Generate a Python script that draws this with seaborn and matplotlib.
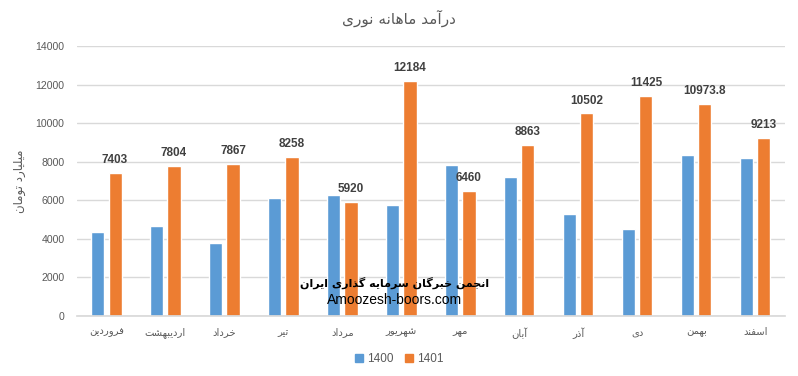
import pandas as pd
import matplotlib
matplotlib.use("Agg")
import matplotlib.pyplot as plt
import seaborn as sns
from matplotlib.patches import Patch

# --- Data ---
months = ["فروردین", "اردیبهشت", "خرداد", "تیر", "مرداد", "شهریور",
          "مهر", "آبان", "آذر", "دی", "بهمن", "اسفند"]
income_1400 = [4350, 4670, 3790, 6120, 6270, 5760, 7830, 7200, 5290, 4510, 8350, 8190]
income_1401 = [7403, 7804, 7867, 8258, 5920, 12184, 6460, 8863, 10502, 11425, 10973.8, 9213]
label_1401 = ["7403", "7804", "7867", "8258", "5920", "12184", "6460", "8863",
              "10502", "11425", "10973.8", "9213"]
series_names = ["1400", "1401"]
title_text = "درآمد ماهانه نوری"
ylabel_text = "میلیارد تومان"
watermark_fa = "انجمن خبرگان سرمایه گذاری ایران"
watermark_en = "Amoozesh-boors.com"

# --- Minimal Persian shaping (matplotlib has no complex text layout) ---
# letter: (isolated, final, initial, medial); right-joining letters have 2 forms
FORMS = {
    "ا": (0xFE8D, 0xFE8E), "آ": (0xFE81, 0xFE82),
    "د": (0xFEA9, 0xFEAA), "ذ": (0xFEAB, 0xFEAC),
    "ر": (0xFEAD, 0xFEAE), "ز": (0xFEAF, 0xFEB0), "و": (0xFEED, 0xFEEE),
    "ب": (0xFE8F, 0xFE90, 0xFE91, 0xFE92), "ت": (0xFE95, 0xFE96, 0xFE97, 0xFE98),
    "ج": (0xFE9D, 0xFE9E, 0xFE9F, 0xFEA0), "خ": (0xFEA5, 0xFEA6, 0xFEA7, 0xFEA8),
    "س": (0xFEB1, 0xFEB2, 0xFEB3, 0xFEB4), "ش": (0xFEB5, 0xFEB6, 0xFEB7, 0xFEB8),
    "ف": (0xFED1, 0xFED2, 0xFED3, 0xFED4), "ل": (0xFEDD, 0xFEDE, 0xFEDF, 0xFEE0),
    "م": (0xFEE1, 0xFEE2, 0xFEE3, 0xFEE4), "ن": (0xFEE5, 0xFEE6, 0xFEE7, 0xFEE8),
    "ه": (0xFEE9, 0xFEEA, 0xFEEB, 0xFEEC), "ی": (0xFBFC, 0xFBFD, 0xFBFE, 0xFBFF),
    "گ": (0xFB92, 0xFB93, 0xFB94, 0xFB95),
}


def fa(text):
    out = []
    for i, ch in enumerate(text):
        if ch not in FORMS:
            out.append(ch)
            continue
        prev_ch = text[i - 1] if i > 0 else ""
        next_ch = text[i + 1] if i + 1 < len(text) else ""
        join_prev = prev_ch in FORMS and len(FORMS[prev_ch]) == 4
        join_next = len(FORMS[ch]) == 4 and next_ch in FORMS
        f = FORMS[ch]
        if join_prev and join_next:
            out.append(chr(f[3]))
        elif join_prev:
            out.append(chr(f[1]))
        elif join_next:
            out.append(chr(f[2]))
        else:
            out.append(chr(f[0]))
    return "".join(reversed(out))


# --- Build long-form table ---
df = pd.DataFrame({"month": months, series_names[0]: income_1400, series_names[1]: income_1401})
long_df = df.melt(id_vars="month", var_name="year", value_name="income")

sns.set_theme(style="white")
plt.rcParams["font.family"] = ["Liberation Sans", "DejaVu Sans"]

blue = "#5B9BD5"
orange = "#ED7D31"
grey_text = "#595959"

fig = plt.figure(figsize=(7.98, 3.76), dpi=100)
ax = fig.add_axes([0.0965, 0.1596, 0.887, 0.718])

sns.barplot(data=long_df, x="month", y="income", hue="year", hue_order=series_names,
            palette=[blue, orange], width=0.58, gap=0.235, ax=ax, legend=False,
            saturation=1, errorbar=None)

ax.set_ylim(0, 14000)
ax.set_yticks(range(0, 14001, 2000))
ax.grid(axis="y", color="#D9D9D9", linewidth=1)
ax.set_axisbelow(True)
for s in ["top", "right", "left"]:
    ax.spines[s].set_visible(False)
ax.spines["bottom"].set_color("#D9D9D9")
ax.tick_params(axis="both", length=0, colors=grey_text, labelsize=7.6)
ax.tick_params(axis="x", pad=8)
ax.tick_params(axis="y", pad=9)
ax.set_xticks(range(len(months)))
ax.set_xticklabels([fa(m) for m in months], fontfamily="DejaVu Sans", fontsize=7.2)
ax.set_xlabel("")
ax.set_ylabel(fa(ylabel_text), fontfamily="DejaVu Sans", fontsize=8.5, color=grey_text, labelpad=7)

# title centred on the figure, as in the reference
fig.text(0.5, 0.952, fa(title_text), ha="center", va="center", fontfamily="DejaVu Sans",
         fontsize=11, color=grey_text)

# value labels on the 1401 bars
orange_bars = ax.containers[1]
for bar, txt in zip(orange_bars, label_1401):
    ax.annotate(txt, (bar.get_x() + bar.get_width() / 2, bar.get_height()),
                xytext=(0, 5), textcoords="offset points", ha="center", va="bottom",
                fontsize=8.5, fontweight="bold", color="#404040")

# watermark
fig.text(0.494, 0.249, fa(watermark_fa), ha="center", va="center", fontsize=8,
         fontweight="bold", color="black", fontfamily="DejaVu Sans")
fig.text(0.494, 0.202, watermark_en, ha="center", va="center", fontsize=10,
         color="black", fontfamily=["Liberation Sans", "DejaVu Sans"])

handles = [Patch(color=blue, label=series_names[0]), Patch(color=orange, label=series_names[1])]
fig.legend(handles=handles, loc="lower center", bbox_to_anchor=(0.5, 0.0), ncol=2,
           frameon=False, fontsize=8.5, handlelength=0.7, handleheight=0.7,
           handletextpad=0.3, columnspacing=1.0, labelcolor=grey_text)

fig.savefig("out.png", dpi=100)
